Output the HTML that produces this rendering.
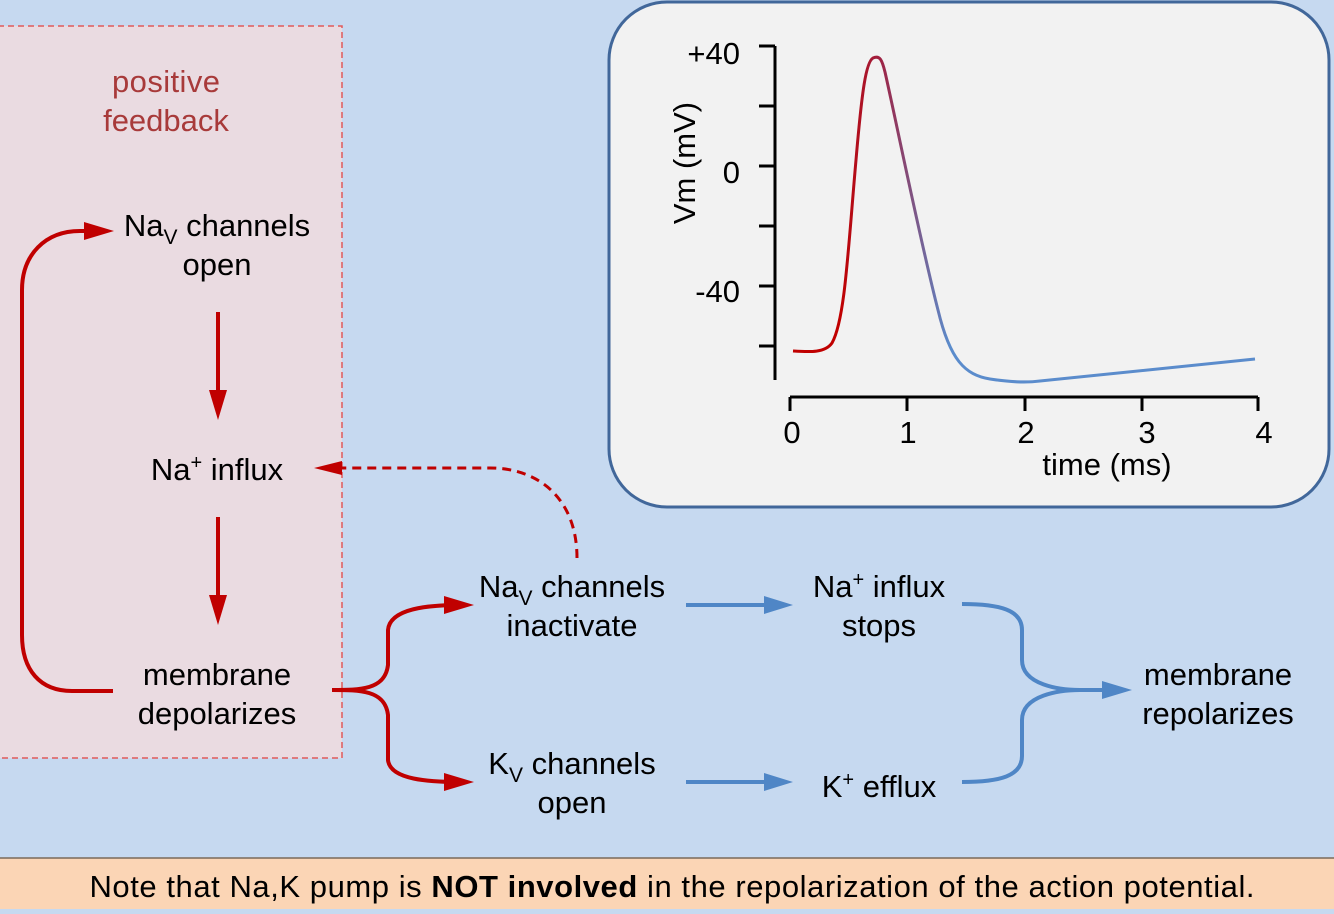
<!DOCTYPE html>
<html><head><style>
body{margin:0;width:1334px;height:909px;overflow:hidden;background:#c6d9f0;font-family:"Liberation Sans",Arial,sans-serif}
</style></head><body>
<svg width="1334" height="909" viewBox="0 0 1334 909" xmlns="http://www.w3.org/2000/svg" font-family="Liberation Sans, Arial, sans-serif">
<defs>
<linearGradient id="g" gradientUnits="userSpaceOnUse" x1="840" y1="0" x2="950" y2="0">
<stop offset="0" stop-color="#c00000"/><stop offset="0.35" stop-color="#a02040"/><stop offset="1" stop-color="#5b8ccc"/></linearGradient>
</defs>
<rect x="0" y="0" width="1334" height="909" fill="#c6d9f0"/>
<rect x="-2" y="26" width="344" height="732" fill="#eadbe1" stroke="#e05a5a" stroke-width="1.5" stroke-dasharray="6,4"/>
<text x="166" y="92" font-size="31" fill="#a83a3a" text-anchor="middle" textLength="108">positive</text>
<text x="166" y="131" font-size="31" fill="#a83a3a" text-anchor="middle">feedback</text>
<rect x="609" y="2" width="720" height="505" rx="58" fill="#f2f2f2" stroke="#41679a" stroke-width="3"/>
<g stroke="#000" stroke-width="3" fill="none">
<path d="M775,46V380"/><path d="M759,46H775M759,106H775M759,166H775M759,226H775M759,286H775M759,346H775"/>
<path d="M790,397H1258M790,397V411M907,397V411M1025,397V411M1142,397V411M1258,397V411"/>
</g>
<g font-size="31" fill="#000">
<text x="740" y="64" text-anchor="end">+40</text>
<text x="740" y="183" text-anchor="end">0</text>
<text x="740" y="302" text-anchor="end">-40</text>
<text x="792" y="443" text-anchor="middle">0</text>
<text x="908" y="443" text-anchor="middle">1</text>
<text x="1026" y="443" text-anchor="middle">2</text>
<text x="1147" y="443" text-anchor="middle">3</text>
<text x="1264" y="443" text-anchor="middle">4</text>
<text x="1107" y="475" text-anchor="middle">time (ms)</text>
<text transform="translate(695,163) rotate(-90)" text-anchor="middle">Vm (mV)</text>
</g>
<path d="M793,351C810,352 825,353 832,343C845,320 848,250 856,160C862,90 866,62 873,58C880,55 882,60 885,72C898,130 920,240 938,310C950,360 965,375 990,379C1010,382 1025,383 1040,381L1255,359" fill="none" stroke="url(#g)" stroke-width="3"/>
<g font-size="31" fill="#000" text-anchor="middle">
<text x="217" y="236">Na<tspan font-size="21" dy="8">V</tspan><tspan dy="-8"> channels</tspan></text>
<text x="217" y="275">open</text>
<text x="217" y="480">Na<tspan font-size="20" dy="-11">+</tspan><tspan dy="11"> influx</tspan></text>
<text x="217" y="685">membrane</text>
<text x="217" y="724">depolarizes</text>
<text x="572" y="597">Na<tspan font-size="21" dy="8">V</tspan><tspan dy="-8"> channels</tspan></text>
<text x="572" y="636">inactivate</text>
<text x="572" y="774">K<tspan font-size="21" dy="8">V</tspan><tspan dy="-8"> channels</tspan></text>
<text x="572" y="813">open</text>
<text x="879" y="597">Na<tspan font-size="20" dy="-11">+</tspan><tspan dy="11"> influx</tspan></text>
<text x="879" y="636">stops</text>
<text x="879" y="797">K<tspan font-size="20" dy="-11">+</tspan><tspan dy="11"> efflux</tspan></text>
<text x="1218" y="685">membrane</text>
<text x="1218" y="724">repolarizes</text>
</g>
<g stroke="#c00000" stroke-width="4" fill="none">
<path d="M218,312V405"/>
<path d="M218,517V610"/>
<path d="M113,691H72C40,691 22,670 22,635V290C22,255 45,231 80,231H100"/>
<path d="M332,690C360,690 385,690 388,665V630C390,608 430,605 460,605"/>
<path d="M332,690C360,690 385,690 388,715V760C390,780 430,782 460,782"/>
<path d="M577,558C577,500 540,468 490,468H330" stroke-width="3" stroke-dasharray="9,6"/>
</g>
<g fill="#c00000">
<path d="M84,222L114,231L84,240z"/>
<path d="M209,390L218,420L227,390z"/>
<path d="M209,595L218,625L227,595z"/>
<path d="M444,596L474,605L444,614z"/>
<path d="M444,773L474,782L444,791z"/>
<path d="M342,461L314,468L342,475z"/>
</g>
<g stroke="#4f86c6" stroke-width="4" fill="none">
<path d="M686,605H766"/><path d="M686,782H766"/>
<path d="M962,604C1000,604 1022,610 1022,630V660C1022,685 1060,690 1080,690H1110"/>
<path d="M962,782C1000,782 1022,776 1022,756V720C1022,695 1060,690 1080,690"/>
</g>
<g fill="#4f86c6">
<path d="M764,596L793,605L764,614z"/>
<path d="M764,773L793,782L764,791z"/>
<path d="M1102,681L1132,690L1102,699z"/>
</g>
<rect x="0" y="858" width="1334" height="51" fill="#fbd5b5"/>
<line x1="0" y1="858" x2="1334" y2="858" stroke="#7a6a5a" stroke-width="1.5"/>
<text x="672" y="897" font-size="31" text-anchor="middle" fill="#000" textLength="1165">Note that Na,K pump is <tspan font-weight="bold">NOT involved</tspan> in the repolarization of the action potential.</text>
</svg>
</body></html>
